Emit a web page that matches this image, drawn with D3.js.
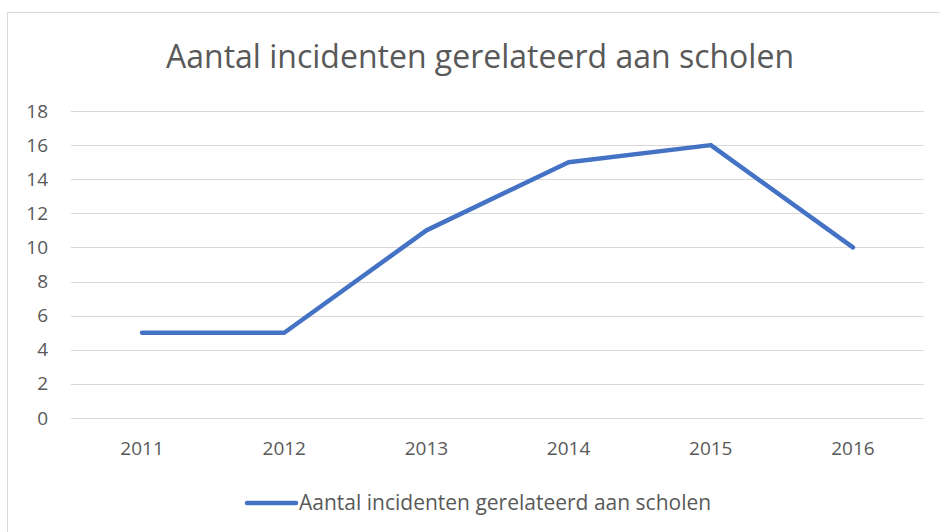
<!DOCTYPE html>
<html><head><meta charset="utf-8">
<script src="https://cdn.jsdelivr.net/npm/d3@7"></script>
<style>
html,body{margin:0;padding:0;background:#fff;}
svg{display:block;}
text{font-family:"Open Sans","Noto Sans",sans-serif;fill:#595959;}
</style></head>
<body><svg id="c" width="940" height="532"></svg>
<script>
const title = "Aantal incidenten gerelateerd aan scholen";
const seriesName = "Aantal incidenten gerelateerd aan scholen";
const years = ["2011","2012","2013","2014","2015","2016"];
const values = [5, 5, 11, 15, 16, 10];
const yTicks = [0,2,4,6,8,10,12,14,16,18];

const svg = d3.select("#c");
// chart area border
svg.append("rect").attr("x",7.5).attr("y",12.5).attr("width",1000).attr("height",600)
  .attr("fill","#fff").attr("stroke","#d9d9d9").attr("stroke-width",1);

const x = d3.scaleBand().domain(years).range([71,924]);
const y = d3.scaleLinear().domain([0,18]).range([418,111]);

// gridlines
svg.append("g").selectAll("line").data(yTicks).join("line")
  .attr("x1",71).attr("x2",924)
  .attr("y1",d=>Math.round(y(d))+0.5).attr("y2",d=>Math.round(y(d))+0.5)
  .attr("stroke","#d9d9d9").attr("stroke-width",1);

// y axis labels
const yAxis = d3.axisLeft(y).tickValues(yTicks).tickSize(0).tickPadding(0);
const gy = svg.append("g").attr("transform","translate(48,0)").call(yAxis);
gy.select(".domain").remove();
gy.selectAll("text").style("font-size","19px").attr("fill","#595959").attr("font-family",null);

// x axis labels
const xAxis = d3.axisBottom(x).tickSize(0).tickPadding(0);
const gx = svg.append("g").attr("transform","translate(0,438)").call(xAxis);
gx.select(".domain").remove();
gx.selectAll("text").style("font-size","19px").attr("fill","#595959").attr("dy","0.9em").attr("font-family",null);

// line
const line = d3.line().x((d,i)=>x(years[i])+x.bandwidth()/2).y(d=>y(d));
svg.append("path").datum(values).attr("d",line)
  .attr("fill","none").attr("stroke","#4472C4").attr("stroke-width",4.5)
  .attr("stroke-linejoin","round").attr("stroke-linecap","round");

// title
svg.append("text").attr("x",480).attr("y",68).attr("text-anchor","middle")
  .style("font-size","32px").text(title);

// legend
svg.append("line").attr("x1",247).attr("x2",296).attr("y1",503).attr("y2",503)
  .attr("stroke","#4472C4").attr("stroke-width",4.5).attr("stroke-linecap","round");
svg.append("text").attr("x",299).attr("y",510).style("font-size","21px").text(seriesName);
</script></body></html>
